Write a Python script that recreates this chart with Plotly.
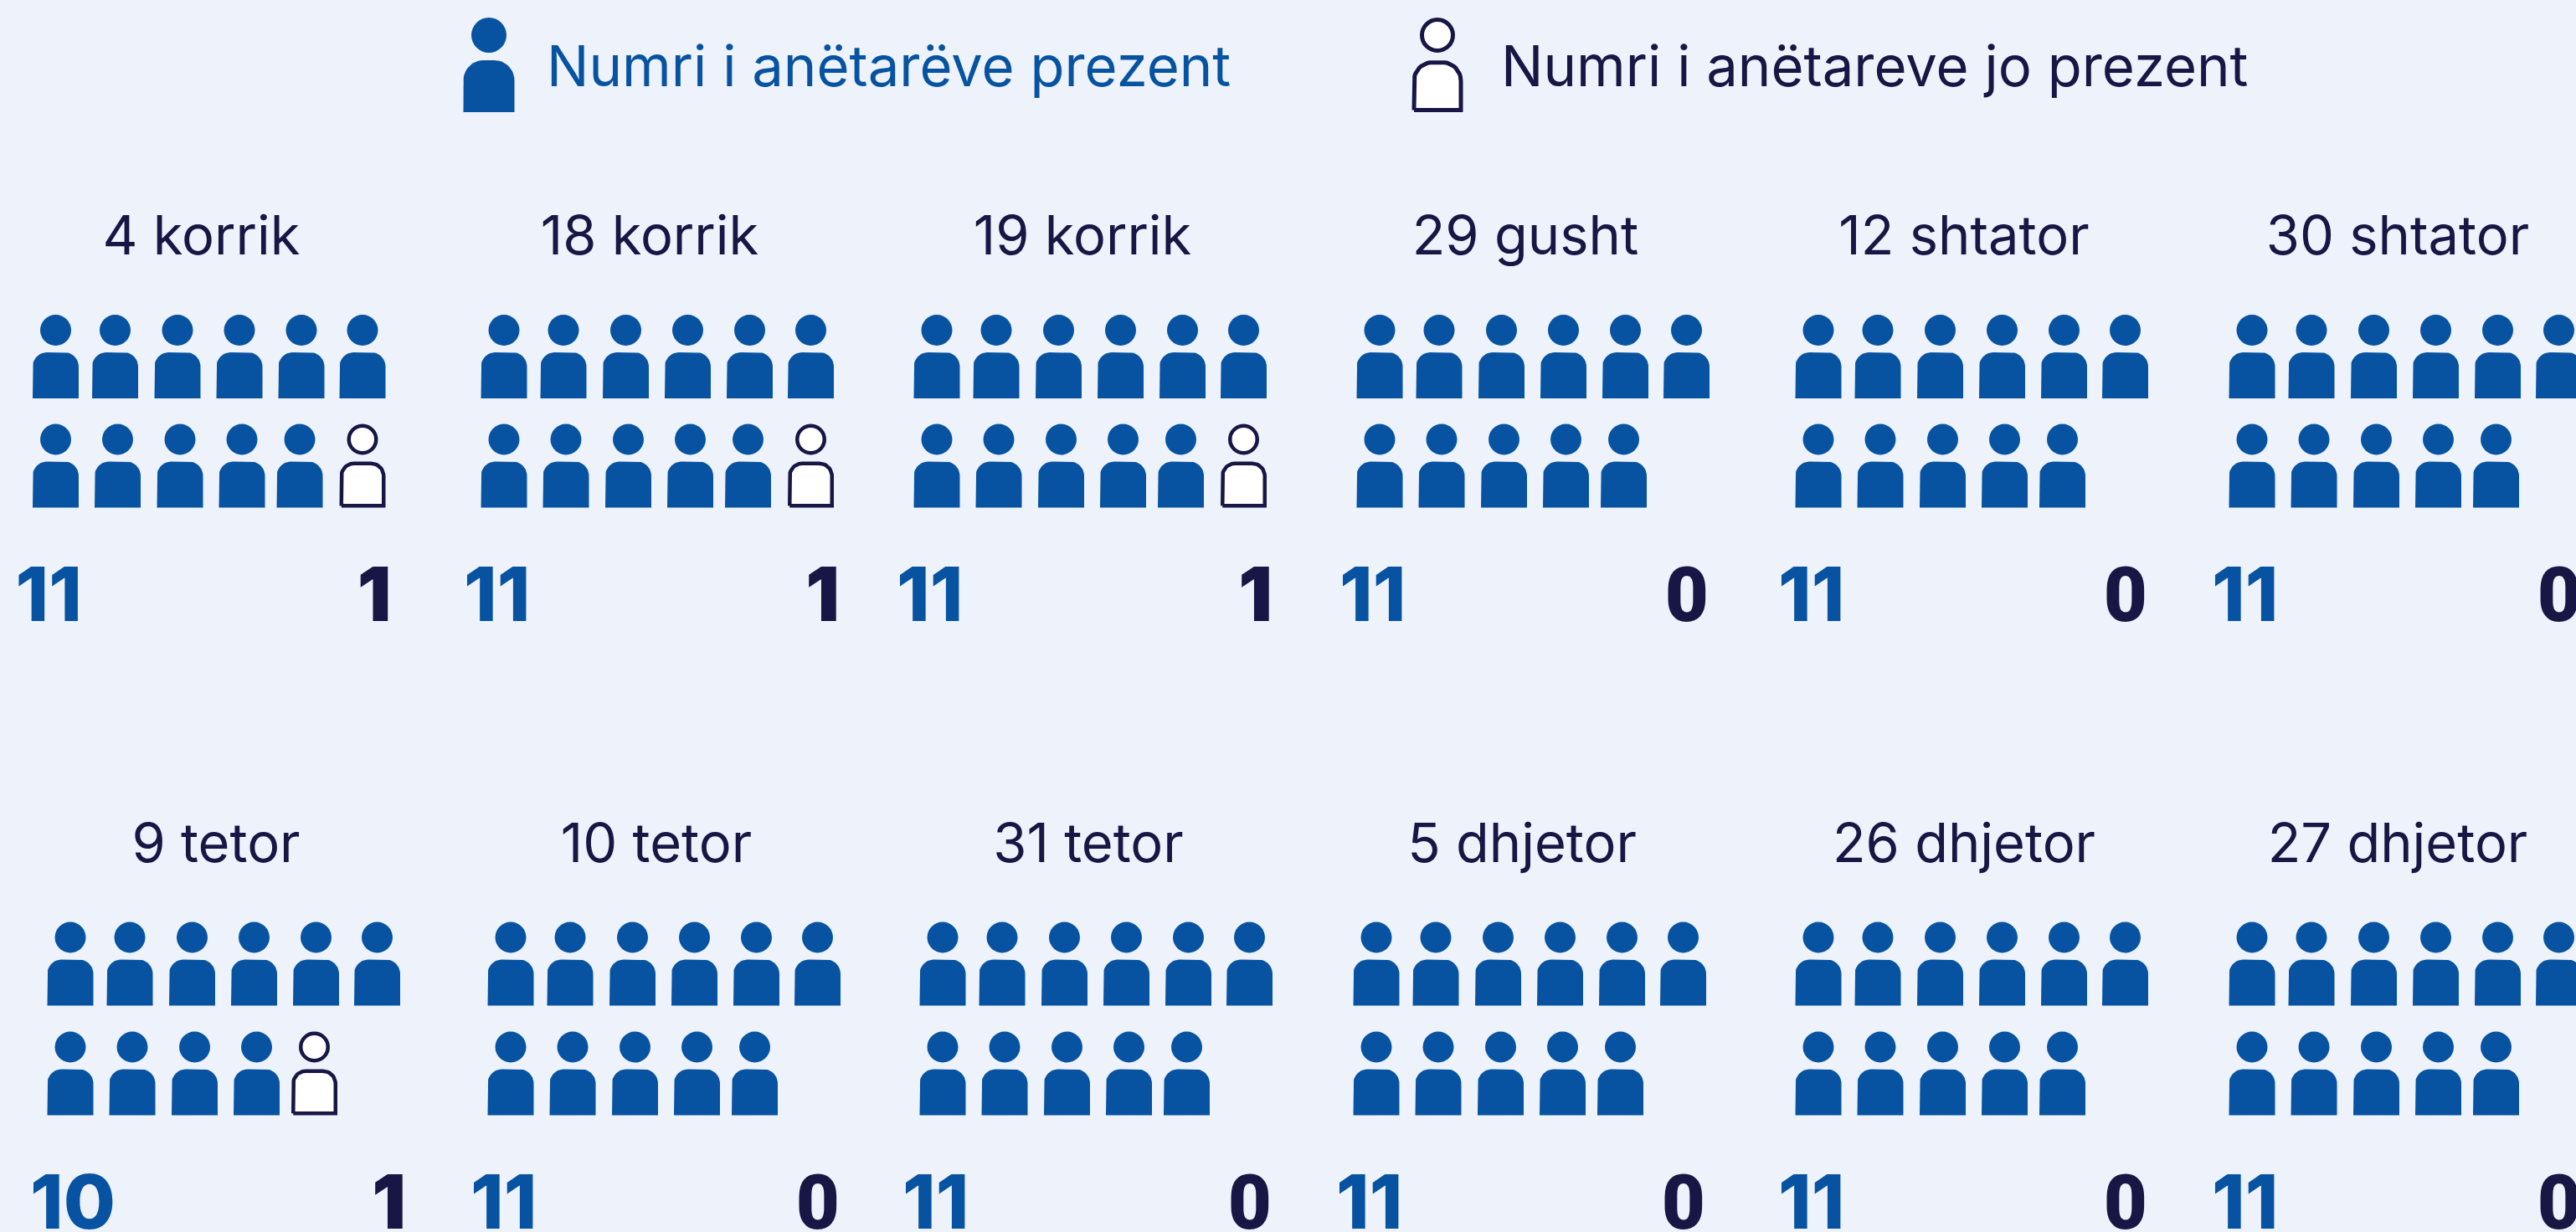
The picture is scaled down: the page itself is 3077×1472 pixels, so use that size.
import math
import plotly.graph_objects as go

# ---- data ----
dates = ["4 korrik", "18 korrik", "19 korrik", "29 gusht", "12 shtator", "30 shtator",
         "9 tetor", "10 tetor", "31 tetor", "5 dhjetor", "26 dhjetor", "27 dhjetor"]
present = [11, 11, 11, 11, 11, 11, 10, 11, 11, 11, 11, 11]
absent = [1, 1, 1, 0, 0, 0, 1, 0, 0, 0, 0, 0]
legend_labels = ["Numri i anëtarëve prezent", "Numri i anëtareve jo prezent"]

# ---- layout constants ----
W, H = 3077, 1472
BG, BLUE, NAVY = "#EEF3FB", "#0753A1", "#171644"
panel_x = [66.5, 602, 1119, 1648, 2172, 2690, 84, 610, 1126, 1644, 2172, 2690]
head_rows = [(394.5, 525), (1120, 1251)]
title_y = [288, 1014]
num_y = [719, 1445]
row1_off = [0, 71, 145.5, 219.5, 293.5, 366.5]
row2_off = [0, 74, 148.5, 222.5, 291.5, 366.5]
TITLE_FONT = "Inter"
TITLE_SIZE = 65
LEGEND_SIZE = 67
NUM_FONT = "Inter"
ZERO_FONT = "Roboto"
NUM_SIZE = 90


def body(cx, top, w, h, r):
    xs, ys = [cx - w / 2, cx - w / 2], [top + h, top + r]
    for cc, a0 in ((cx - w / 2 + r, 180), (cx + w / 2 - r, 270)):
        for k in range(13):
            a = math.radians(a0 + k * 90 / 12)
            xs.append(cc + r * math.cos(a))
            ys.append(top + r + r * math.sin(a))
    xs += [cx + w / 2, cx - w / 2, None]
    ys += [top + h, top + h, None]
    return xs, ys


seats = {"p": ([], [], [], []), "a": ([], [], [], [])}


def add_icon(kind, cx, head_y):
    hx, hy, bx, by = seats[kind]
    hx.append(cx)
    hy.append(head_y)
    if kind == "p":
        xs, ys = body(cx, head_y + 26.5, 55, 55, 17)
    else:
        xs, ys = body(cx, head_y + 28.75, 50.5, 50.5, 15)
    bx += xs
    by += ys


for i, (date, p, a) in enumerate(zip(dates, present, absent)):
    row = i // 6
    for s in range(p + a):
        off = row1_off[s] if s < 6 else row2_off[s - 6]
        hy = head_rows[row][0 if s < 6 else 1]
        add_icon("p" if s < p else "a", panel_x[i] + off, hy)

fig = go.Figure()
# panel icons
fig.add_trace(go.Scatter(x=seats["p"][2], y=seats["p"][3], mode="lines", fill="toself",
                         fillcolor=BLUE, line=dict(width=0), hoverinfo="skip", showlegend=False))
fig.add_trace(go.Scatter(x=seats["p"][0], y=seats["p"][1], mode="markers",
                         marker=dict(size=37, color=BLUE, line=dict(width=0)),
                         hoverinfo="skip", showlegend=False))
fig.add_trace(go.Scatter(x=seats["a"][2], y=seats["a"][3], mode="lines", fill="toself",
                         fillcolor="white", line=dict(width=4.5, color=NAVY),
                         hoverinfo="skip", showlegend=False))
fig.add_trace(go.Scatter(x=seats["a"][0], y=seats["a"][1], mode="markers",
                         marker=dict(size=32.5, color="white", line=dict(width=4.5, color=NAVY)),
                         hoverinfo="skip", showlegend=False))

# legend icons
lx, ly = body(584, 72, 61, 62, 24)
fig.add_trace(go.Scatter(x=lx, y=ly, mode="lines", fill="toself", fillcolor=BLUE,
                         line=dict(width=0), hoverinfo="skip", showlegend=False))
fig.add_trace(go.Scatter(x=[584], y=[42], mode="markers",
                         marker=dict(size=42, color=BLUE, line=dict(width=0)),
                         hoverinfo="skip", showlegend=False))
lx, ly = body(1717, 74.5, 56, 57, 22)
fig.add_trace(go.Scatter(x=lx, y=ly, mode="lines", fill="toself", fillcolor="white",
                         line=dict(width=5, color=NAVY), hoverinfo="skip", showlegend=False))
fig.add_trace(go.Scatter(x=[1717], y=[42], mode="markers",
                         marker=dict(size=37, color="white", line=dict(width=5, color=NAVY)),
                         hoverinfo="skip", showlegend=False))

# legend labels
fig.add_trace(go.Scatter(x=[653], y=[86], mode="text", text=[legend_labels[0]],
                         textposition="middle right", hoverinfo="skip", showlegend=False,
                         textfont=dict(family=TITLE_FONT, size=LEGEND_SIZE, color=BLUE)))
fig.add_trace(go.Scatter(x=[1793], y=[86], mode="text", text=[legend_labels[1]],
                         textposition="middle right", hoverinfo="skip", showlegend=False,
                         textfont=dict(family=TITLE_FONT, size=LEGEND_SIZE, color=NAVY)))

# panel titles and counts
fig.add_trace(go.Scatter(x=[panel_x[i] + 174 for i in range(12)],
                         y=[title_y[i // 6] for i in range(12)], mode="text", text=dates,
                         textposition="middle center", hoverinfo="skip", showlegend=False,
                         textfont=dict(family=TITLE_FONT, size=TITLE_SIZE, color=NAVY)))
fig.add_trace(go.Scatter(x=[panel_x[i] - 48 for i in range(12)],
                         y=[num_y[i // 6] for i in range(12)], mode="text",
                         text=[str(v) for v in present], textposition="middle right",
                         hoverinfo="skip", showlegend=False,
                         textfont=dict(family=NUM_FONT, size=NUM_SIZE, color=BLUE, weight=800)))
fig.add_trace(go.Scatter(x=[panel_x[i] + (393 if absent[i] == 0 else 401) for i in range(12)],
                         y=[num_y[i // 6] for i in range(12)], mode="text",
                         text=[str(v) for v in absent], textposition="middle left",
                         hoverinfo="skip", showlegend=False,
                         textfont=dict(family=[ZERO_FONT if v == 0 else NUM_FONT for v in absent],
                                       size=NUM_SIZE, color=NAVY, weight=900)))

fig.update_layout(width=W, height=H, margin=dict(l=0, r=0, t=0, b=0),
                  paper_bgcolor=BG, plot_bgcolor=BG, showlegend=False)
fig.update_xaxes(range=[0, W], visible=False, fixedrange=True)
fig.update_yaxes(range=[H, 0], visible=False, fixedrange=True)
fig.write_html("out.html", config=dict(displayModeBar=False),
               post_script="document.body.style.margin='0';document.documentElement.style.background='#EEF3FB';")
